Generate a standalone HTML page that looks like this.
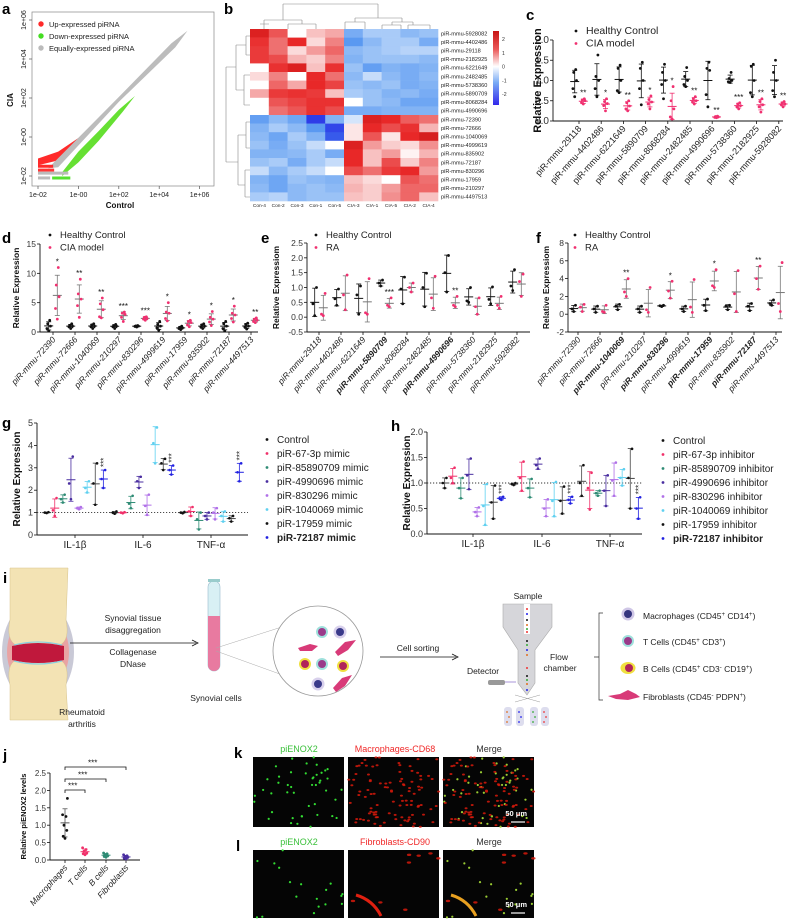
<!DOCTYPE html>
<html><head><meta charset="utf-8">
<style>
html,body{margin:0;padding:0;background:#fff;}
svg{display:block;font-family:"Liberation Sans",Arial,sans-serif;}
</style></head>
<body>
<svg id="fig" width="790" height="920" viewBox="0 0 790 920" xmlns="http://www.w3.org/2000/svg">
<rect x="0" y="0" width="790" height="920" fill="#fff"/>
<g id="static">
  <g font-weight="bold" font-size="15" fill="#000">
    <text x="2" y="14">a</text>
    <text x="224" y="14">b</text>
    <text x="526" y="20">c</text>
    <text x="2" y="243">d</text>
    <text x="261" y="243">e</text>
    <text x="536" y="243">f</text>
    <text x="2" y="428">g</text>
    <text x="391" y="431">h</text>
    <text x="3" y="583">i</text>
    <text x="3" y="760">j</text>
    <text x="234" y="758">k</text>
    <text x="236" y="851">l</text>
  </g>

  <g>
    <ellipse cx="38" cy="652" rx="36" ry="52" fill="#c9c9d6"/>
    <ellipse cx="38" cy="652" rx="31" ry="40" fill="#e9a3a3"/>
    <path d="M10,568 L68,568 L66,620 Q70,640 60,645 L16,645 Q6,640 10,620 Z" fill="#f3e3b4" stroke="#d8c48c" stroke-width="0.5"/>
    <path d="M16,660 L60,660 Q70,665 66,685 L68,720 L10,720 L10,685 Q6,665 16,660 Z" fill="#f3e3b4" stroke="#d8c48c" stroke-width="0.5"/>
    <path d="M12,646 Q38,640 64,646 L64,660 Q38,666 12,660 Z" fill="#c0183c"/>
    <path d="M14,645 Q38,639 62,645" stroke="#8ad0e0" stroke-width="1.2" fill="none"/>
    <path d="M14,661 Q38,667 62,661" stroke="#8ad0e0" stroke-width="1.2" fill="none"/>
  </g>
  <text x="82" y="715" font-size="8.5" text-anchor="middle" fill="#222">Rheumatoid</text>
  <text x="82" y="727" font-size="8.5" text-anchor="middle" fill="#222">arthritis</text>
  <line x1="70" y1="643" x2="196" y2="643" stroke="#111" stroke-width="0.8"/>
  <path d="M192,640 L198,643 L192,646" fill="none" stroke="#111" stroke-width="0.8"/>
  <g font-size="8.5" fill="#222" text-anchor="middle">
    <text x="133" y="621">Synovial tissue</text>
    <text x="133" y="633">disaggregation</text>
    <text x="133" y="655">Collagenase</text>
    <text x="133" y="667">DNase</text>
  </g>
  <g>
    <rect x="208" y="581" width="12" height="90" rx="6" fill="#d8f0f4" stroke="#9bc" stroke-width="0.6"/>
    <path d="M208,616 L220,616 L220,665 A6,6 0 0 1 208,665 Z" fill="#e87aa0"/>
    <rect x="208" y="579" width="12" height="3" fill="#9cc"/>
  </g>
  <text x="216" y="701" font-size="8.5" text-anchor="middle" fill="#222">Synovial cells</text>
  <line x1="216" y1="648" x2="313" y2="617" stroke="#aaa" stroke-width="0.5"/>
  <line x1="216" y1="651" x2="313" y2="686" stroke="#aaa" stroke-width="0.5"/>
  <g>
    <circle cx="318" cy="651" r="45" fill="#fff" stroke="#999" stroke-width="0.8"/>
    <circle cx="322" cy="632" r="6" fill="#9fe0dc"/><circle cx="322" cy="632" r="4" fill="#9a3a8a"/>
    <circle cx="340" cy="632" r="6.5" fill="#d8d0ec"/><circle cx="340" cy="632" r="4" fill="#3a3a8a"/>
    <circle cx="305" cy="664" r="6" fill="#f0e040"/><circle cx="305" cy="664" r="4" fill="#b0245a"/>
    <circle cx="322" cy="664" r="6" fill="#9fe0dc"/><circle cx="322" cy="664" r="4" fill="#9a3a8a"/>
    <circle cx="343" cy="666" r="6" fill="#f0e040"/><circle cx="343" cy="666" r="4" fill="#b0245a"/>
    <circle cx="318" cy="684" r="6.5" fill="#d8d0ec"/><circle cx="318" cy="684" r="4" fill="#3a3a8a"/>
    <path d="M298,648 L310,644 L318,646 L312,651 L300,651 Z" fill="#d83a78"/>
    <path d="M335,652 L345,642 L356,640 L348,650 L338,656 Z" fill="#d83a78"/>
    <path d="M333,688 L342,678 L352,675 L345,686 L336,692 Z" fill="#d83a78"/>
  </g>
  <line x1="380" y1="657" x2="456" y2="657" stroke="#111" stroke-width="0.8"/>
  <path d="M452,654 L458,657 L452,660" fill="none" stroke="#111" stroke-width="0.8"/>
  <text x="418" y="651" font-size="8.5" text-anchor="middle" fill="#222">Cell sorting</text>
  <g>
    <path d="M503,604 L552,604 L552,627 L535,650 L535,683 L527,695 L518,683 L518,650 L503,627 Z" fill="#d6d6da" stroke="#aaa" stroke-width="0.6"/>
    <rect x="524" y="604" width="6" height="30" fill="#fff"/>
    <g fill="#e33"><circle cx="527" cy="609" r="1"/><circle cx="527" cy="632" r="1"/><circle cx="527" cy="668" r="1"/></g>
    <g fill="#22e"><circle cx="527" cy="614" r="1"/><circle cx="527" cy="650" r="1"/><circle cx="527" cy="690" r="1"/></g>
    <g fill="#111"><circle cx="527" cy="620" r="1"/><circle cx="527" cy="641" r="1"/><circle cx="527" cy="676" r="1"/></g>
    <g fill="#e07020"><circle cx="527" cy="625" r="1"/><circle cx="527" cy="655" r="1"/><circle cx="527" cy="684" r="1"/></g>
    <g fill="#3a3"><circle cx="527" cy="629" r="1"/><circle cx="527" cy="645" r="1"/><circle cx="527" cy="680" r="1"/></g>
    <line x1="515" y1="702" x2="540" y2="695" stroke="#999" stroke-width="0.5"/>
    <line x1="515" y1="695" x2="540" y2="702" stroke="#999" stroke-width="0.5"/>
  </g>
  <text x="528" y="599" font-size="8.5" text-anchor="middle" fill="#222">Sample</text>
  <text x="483" y="674" font-size="8.5" text-anchor="middle" fill="#222">Detector</text>
  <rect x="488" y="680" width="17" height="5" rx="2" fill="#999"/>
  <line x1="505" y1="682" x2="516" y2="682" stroke="#7050c0" stroke-width="0.6"/>
  <text x="559" y="660" font-size="8.5" text-anchor="middle" fill="#222">Flow</text>
  <text x="560" y="671" font-size="8.5" text-anchor="middle" fill="#222">chamber</text>
  <g>
    <rect x="504" y="707" width="8" height="19" rx="3" fill="#dde"/>
    <rect x="516" y="707" width="8" height="19" rx="3" fill="#dde"/>
    <rect x="530" y="707" width="8" height="19" rx="3" fill="#dde"/>
    <rect x="541" y="707" width="8" height="19" rx="3" fill="#dde"/>
    <g fill="#e07020"><circle cx="507" cy="712" r="0.9"/><circle cx="509" cy="717" r="0.9"/><circle cx="507" cy="722" r="0.9"/></g>
    <g fill="#22e"><circle cx="519" cy="712" r="0.9"/><circle cx="521" cy="717" r="0.9"/><circle cx="519" cy="722" r="0.9"/></g>
    <g fill="#3a3"><circle cx="533" cy="712" r="0.9"/><circle cx="535" cy="717" r="0.9"/><circle cx="533" cy="722" r="0.9"/></g>
    <g fill="#e33"><circle cx="544" cy="712" r="0.9"/><circle cx="546" cy="717" r="0.9"/><circle cx="544" cy="722" r="0.9"/></g>
  </g>
  <path d="M603,613 L599,613 L599,700 L603,700 M599,657 L594,657" fill="none" stroke="#333" stroke-width="0.7"/>
  <g font-size="8.5" fill="#222">
    <circle cx="628" cy="614" r="6.5" fill="#cfc6e6"/><circle cx="628" cy="614" r="4" fill="#34347e"/>
    <text x="643" y="619">Macrophages (CD45<tspan font-size="6" dy="-3">+</tspan><tspan dy="3"> CD14</tspan><tspan font-size="6" dy="-3">+</tspan><tspan dy="3">)</tspan></text>
    <circle cx="628" cy="641" r="6" fill="#9fe0dc"/><circle cx="628" cy="641" r="4" fill="#9a3a8a"/>
    <text x="643" y="645">T Cells (CD45<tspan font-size="6" dy="-3">+</tspan><tspan dy="3"> CD3</tspan><tspan font-size="6" dy="-3">+</tspan><tspan dy="3">)</tspan></text>
    <ellipse cx="628" cy="668" rx="7.5" ry="6" fill="#f0e040"/><circle cx="629" cy="668" r="4" fill="#b0245a"/>
    <text x="643" y="672">B Cells (CD45<tspan font-size="6" dy="-3">+</tspan><tspan dy="3"> CD3</tspan><tspan font-size="6" dy="-3">-</tspan><tspan dy="3"> CD19</tspan><tspan font-size="6" dy="-3">+</tspan><tspan dy="3">)</tspan></text>
    <path d="M608,696 L620,694 L628,690 L636,694 L640,697 L628,700 L616,699 Z" fill="#d83a78"/>
    <text x="643" y="700">Fibroblasts (CD45<tspan font-size="6" dy="-3">-</tspan><tspan dy="3"> PDPN</tspan><tspan font-size="6" dy="-3">+</tspan><tspan dy="3">)</tspan></text>
  </g>

  <g font-size="9" text-anchor="middle">
    <text x="299" y="752" fill="#3ac03a">piENOX2</text>
    <text x="395" y="752" fill="#f02828">Macrophages-CD68</text>
    <text x="489" y="752" fill="#333">Merge</text>
    <text x="299" y="845" fill="#3ac03a">piENOX2</text>
    <text x="395" y="845" fill="#f02828">Fibroblasts-CD90</text>
    <text x="489" y="845" fill="#333">Merge</text>
  </g>
</g>
<g id="dyn"></g>
</svg>
<script>
// ===== chart data =====
const aTicks = ["1e-02","1e-00","1e+02","1e+04","1e+06"];
const aTickVals = [-2, 0, 2, 4, 6];
const aGrayBand = [[-1.3,-1.4],[2,2.05],[4.6,4.8],[5.4,5.45],[4.8,4.6],[2,1.8],[-1,-1.55],[-1.5,-1.6]];
const aRedBand = [[-2,-1.1],[-1,-0.75],[0,-0.05],[1.5,1.45],[2.5,2.5],[2,1.95],[0.5,0.35],[-1,-1.2],[-2,-1.45]];
const aGreenBand = [[-0.8,-1.8],[0,-0.75],[1,0.3],[2,1.4],[2.8,2.1],[2.2,1.3],[1,-0.2],[0,-1.3],[-0.8,-2.0]];
const aRows = [[-2,-1.25,-1.5,"#ff2a2a"],[-2,-1.2,-1.7,"#f33"],[-2,-0.5,-1.85,"#bbb"],[-1.3,-0.4,-2.1,"#55e030"],[-2,-1.4,-2.1,"#bbb"]];
const hmCols = ["Con-4","Con-2","Con-3","Con-1","Con-5","CIA-3","CIA-1","CIA-5","CIA-2","CIA-4"];
const hmRows = ["piR-mmu-5928082","piR-mmu-4402486","piR-mmu-29118","piR-mmu-2182925","piR-mmu-6221649","piR-mmu-2482485","piR-mmu-5738360","piR-mmu-5890709","piR-mmu-8068284","piR-mmu-4990696","piR-mmu-72390","piR-mmu-72666","piR-mmu-1040069","piR-mmu-4999619","piR-mmu-835902","piR-mmu-72187","piR-mmu-830296","piR-mmu-17959","piR-mmu-210297","piR-mmu-4497513"];
const hmVals = [
[2.2,1.5,0,0.5,0.7,-1,-0.6,-0.6,-0.8,-0.7],
[1.9,1.2,2,0.3,1,-1.3,-0.8,-0.6,-0.6,-1],
[1.8,1.2,0.3,0.8,1.3,-0.8,-0.7,-0.6,-0.5,-0.5],
[1.8,1.6,0.6,0.4,1,-0.9,-0.7,-0.7,-0.7,-0.8],
[0,1.9,2.2,0.5,1.9,-0.7,-1.2,-0.9,-1,-0.9],
[0.3,1,0,2,1.2,-0.8,-0.4,-0.8,-1,-0.8],
[0,1.3,0.7,2,1.7,-0.7,-0.8,-0.7,-1,-0.9],
[0.7,1.8,1.9,1.8,0.5,-0.6,-0.7,-0.9,-0.8,-1],
[0,1.5,1.7,1.9,1.9,0,-0.7,-0.8,-1.1,-1.1],
[0,1.2,1.5,1.9,1.6,-1,-1,-0.9,-0.9,-0.9],
[-1.2,-0.8,-1.1,-2.3,-0.9,-0.3,2.2,2,1.4,1.2],
[-0.9,-0.6,-0.8,-1.3,-2.2,0.2,2,1.6,1.9,0.6],
[-0.8,-1.1,-0.6,-0.9,-2,0.2,1.5,0.2,2,2.3],
[-0.7,-1,-0.7,-0.4,0,2.2,0.8,0.4,0.3,0.9],
[-0.9,-0.9,-0.8,-0.6,-1,2,0.5,0.8,0.1,0.6],
[-0.7,-0.6,-1,-0.6,-0.4,2,0.5,1.6,0.4,1],
[-0.4,-0.8,-0.6,-0.4,0,1.6,1.2,1.8,2,0.8],
[-0.9,-1.1,-0.7,-0.8,-0.9,0.5,0.3,0,1.5,1.2],
[-0.8,-1.1,-0.8,-0.7,-0.8,0.6,0.4,0.8,1.3,1.3],
[-0.6,-0.5,-0.8,-0.7,-0.7,0.5,0.4,0.9,1.3,0.5]];
const hmScaleTicks = [2,1,0,-1,-2];
const cCats = ["piR-mmu-29118","piR-mmu-4402486","piR-mmu-6221649","piR-mmu-5890709","piR-mmu-8068284","piR-mmu-2482485","piR-mmu-4990696","piR-mmu-5738360","piR-mmu-2182925","piR-mmu-5928082"];
const cHC = [[0.6,0.8,1.0,1.2,1.27],[0.6,0.8,1.0,1.1,1.63],[0.7,0.75,1.0,1.3,1.38],[0.4,0.8,1.0,1.3,1.45],[0.55,0.9,1.0,1.2,1.4],[0.85,0.9,1.0,1.1,1.32],[0.35,0.65,1.25,1.3,1.45],[0.95,0.97,1.0,1.05,1.2],[0.6,0.7,1.0,1.35,1.4],[0.6,0.75,1.0,1.2,1.5]];
const cCIA = [[0.42,0.45,0.5,0.52,0.55],[0.25,0.38,0.43,0.48,0.55],[0.25,0.3,0.37,0.45,0.5],[0.3,0.42,0.47,0.53,0.62],[0.05,0.1,0.3,0.5,0.85],[0.42,0.47,0.5,0.55,0.6],[0.08,0.09,0.1,0.11,0.12],[0.3,0.35,0.38,0.42,0.45],[0.22,0.35,0.4,0.48,0.55],[0.35,0.4,0.42,0.45,0.48]];
const cStars = ["**","*","**","*","*","**","**","***","**","**"];
const cTicks = [0,0.5,1,1.5,2];
const dCats = ["piR-mmu-72390","piR-mmu-72666","piR-mmu-1040069","piR-mmu-210297","piR-mmu-830296","piR-mmu-4999619","piR-mmu-17959","piR-mmu-835902","piR-mmu-72187","piR-mmu-4497513"];
const dHC = [[0.2,0.6,1,1.4,2],[0.6,0.9,1,1.1,1.4],[0.6,0.9,1,1.2,1.4],[0.6,0.9,1,1.1,1.3],[0.85,0.95,1,1.05,1.1],[0.3,0.7,1,1.3,1.8],[0.4,0.6,0.7,0.8,1.0],[0.6,0.8,1,1.2,1.4],[0.2,0.6,1,1.4,1.8],[0.5,0.8,1,1.3,1.5]];
const dCIA = [[2.2,4,6,8,11],[2.5,4.5,5.6,6.5,9],[2.4,2.6,3.8,4.8,5.8],[1.8,2.5,3.0,3.2,3.4],[2.0,2.2,2.3,2.5,2.6],[1.9,2.3,3.2,3.4,5.0],[0.9,1.2,1.6,1.8,2.0],[1.1,1.7,2.2,2.5,3.5],[1.7,2.3,2.9,3.2,4.4],[1.6,1.8,2.0,2.2,2.4]];
const dStars = ["*","**","**","***","***","*","*","*","*","**"];
const dTicks = [0,5,10,15];
const eCats = ["piR-mmu-29118","piR-mmu-4402486","piR-mmu-6221649","piR-mmu-5890709","piR-mmu-8068284","piR-mmu-2482485","piR-mmu-4990696","piR-mmu-5738360","piR-mmu-2182925","piR-mmu-5928082"];
const eBold = [3,6];
const eHC = [[0.05,0.45,1.0],[0.4,0.62,0.95],[0.1,0.75,1.05],[1.05,1.15,1.25],[0.45,0.95,1.35],[0.35,1.0,1.48],[0.85,1.5,2.08],[0.5,0.55,1.0],[0.45,0.6,1.02],[0.9,1.05,1.6]];
const eRA = [[0.05,0.1,0.8],[0.25,0.75,1.42],[0.1,0.15,1.3],[0.35,0.4,0.65],[0.85,1.0,1.15],[0.3,0.65,1.38],[0.35,0.4,0.7],[0.1,0.35,0.65],[0.3,0.4,0.7],[0.7,1.2,1.45]];
const eStars = ["","","","***","","","**","","",""];
const eTicks = [-0.5,0,0.5,1,1.5,2,2.5];
const fCats = ["piR-mmu-72390","piR-mmu-72666","piR-mmu-1040069","piR-mmu-210297","piR-mmu-830296","piR-mmu-4999619","piR-mmu-17959","piR-mmu-835902","piR-mmu-72187","piR-mmu-4497513"];
const fBold = [2,4,6,8];
const fHC = [[0.3,0.6,1.0],[0.2,0.6,0.9],[0.5,0.9,1.1],[0.2,0.6,0.9],[0.85,0.95,1.0],[0.3,0.6,0.9],[0.4,1.0,1.7],[0.5,0.9,1.0],[0.4,0.9,1.2],[1.0,1.2,1.6]];
const fRA = [[0.3,0.8,1.1],[0.2,0.3,1.0],[2.0,2.5,4.0],[0.2,0.5,3.0],[1.8,2.6,3.7],[0.2,0.8,3.9],[3.0,3.2,5.0],[0.3,2.3,4.9],[2.8,4.0,5.4],[0.3,1.2,5.8]];
const fStars = ["","","**","","*","","*","","**",""];
const fTicks = [-2,0,2,4,6,8];
const gGroups = ["IL-1β","IL-6","TNF-α"];
const gSeries = ["Control","piR-67-3p mimic","piR-85890709 mimic","piR-4990696 mimic","piR-830296 mimic","piR-1040069 mimic","piR-17959 mimic","piR-72187 mimic"];
const gPts = [
[[0.98,1.0,1.02],[0.95,1.0,1.05],[0.97,1.0,1.03]],
[[0.85,1.1,1.65],[0.97,1.0,1.02],[0.85,1.05,1.25]],
[[1.45,1.6,1.8],[1.2,1.4,1.75],[0.25,0.7,1.0]],
[[1.6,2.3,3.5],[2.1,2.4,2.6],[0.7,0.85,1.0]],
[[1.15,1.2,1.25],[0.9,1.3,1.8],[0.7,1.0,1.2]],
[[1.9,2.1,2.4],[3.2,4.1,4.8],[0.6,0.85,1.05]],
[[1.35,2.3,3.2],[2.9,3.2,3.4],[0.6,0.75,0.85]],
[[2.1,2.5,2.9],[2.7,2.9,3.1],[2.4,2.8,3.2]]];
const gTicks = [0,1,2,3,4,5];
const hSeries = ["Control","piR-67-3p inhibitor","piR-85890709 inhibitor","piR-4990696 inhibitor","piR-830296 inhibitor","piR-1040069 inhibitor","piR-17959 inhibitor","piR-72187 inhibitor"];
const hPts = [
[[0.9,1.0,1.1],[0.96,0.98,1.0],[0.75,1.0,1.35]],
[[1.0,1.1,1.3],[0.85,1.1,1.42],[0.48,0.9,1.2]],
[[0.7,0.9,1.1],[0.72,0.9,1.08],[0.75,0.8,0.85]],
[[0.88,1.15,1.48],[1.28,1.35,1.48],[0.55,0.85,1.15]],
[[0.35,0.43,0.52],[0.35,0.5,0.68],[0.75,1.05,1.4]],
[[0.18,0.55,0.98],[0.35,0.65,1.02],[0.95,1.1,1.27]],
[[0.3,0.62,0.95],[0.4,0.65,0.93],[0.5,1.1,1.67]],
[[0.67,0.7,0.73],[0.6,0.67,0.73],[0.3,0.5,0.72]]];
const hTicks = [0,0.5,1,1.5,2];
const jCats = ["Macrophages","T cells","B cells","Fibroblasts"];
const jPts = [[0.62,0.68,0.85,1.0,1.25,1.3,1.77],[0.15,0.18,0.2,0.25,0.3,0.35],[0.08,0.1,0.12,0.15,0.18,0.2],[0.03,0.05,0.08,0.1,0.12,0.15]];
const jTicks = [0,0.5,1,1.5,2,2.5];

// ===== rendering =====
const NS = "http://www.w3.org/2000/svg";
const root = document.getElementById("dyn");
function mk(tag, attrs, parent){
  const e = document.createElementNS(NS, tag);
  for (const k in attrs) e.setAttribute(k, attrs[k]);
  (parent||root).appendChild(e);
  return e;
}
function txt(x,y,s,attrs,parent){
  const t = mk("text", Object.assign({x:x,y:y,"font-size":8,fill:"#222"},attrs||{}), parent);
  t.textContent = s; return t;
}
const mean = a => a.reduce((s,v)=>s+v,0)/a.length;
const sdev = a => { const m=mean(a); return Math.sqrt(a.reduce((s,v)=>s+(v-m)*(v-m),0)/Math.max(1,a.length-1)); };
const JIT = [0,-1.8,1.8,-1,1,-2.4,2.4];
function fmt(v,dec){ return v.toFixed(dec); }

function axes(p, ticks, dec, title, titleX, fs){
  const g = mk("g",{});
  
  
  const y = v => p.yb - (v-p.vmin)/(p.vmax-p.vmin)*(p.yb-p.yt);
  mk("line",{x1:p.x0,y1:p.yt,x2:p.x0,y2:p.yb,stroke:"#111","stroke-width":0.9},g);
  mk("line",{x1:p.x0,y1:p.yb,x2:p.xe,y2:p.yb,stroke:"#111","stroke-width":0.9},g);
  ticks.forEach(v=>{
    mk("line",{x1:p.x0-3,y1:y(v),x2:p.x0,y2:y(v),stroke:"#111","stroke-width":0.8},g);
    const t = txt(p.x0-4,y(v)+3,fmt(v,dec),{"text-anchor":"end","font-size":p.tkfs||fs||8.5,fill:"#333"},g);
    
    
  });
  const cy=(p.yt+p.yb)/2;
  const tt = txt(titleX,cy,title,{"text-anchor":"middle","font-size":p.tfs||9.5,"font-weight":"bold",fill:"#111",transform:`rotate(-90 ${titleX} ${cy})`},g);
  
  
  return y;
}
function group(y, cx, pts, color, bar, name, r){
  const g = mk("g",{});
  
  
  const m = mean(pts), s = sdev(pts);
  mk("line",{x1:cx,y1:y(m-s),x2:cx,y2:y(m+s),stroke:bar,"stroke-width":0.8},g);
  mk("line",{x1:cx-2.5,y1:y(m-s),x2:cx+2.5,y2:y(m-s),stroke:bar,"stroke-width":0.8},g);
  mk("line",{x1:cx-2.5,y1:y(m+s),x2:cx+2.5,y2:y(m+s),stroke:bar,"stroke-width":0.8},g);
  mk("line",{x1:cx-4.5,y1:y(m),x2:cx+4.5,y2:y(m),stroke:bar,"stroke-width":1},g);
  pts.forEach((v,i)=>{
    const c = mk("circle",{cx:cx+JIT[i%JIT.length],cy:y(v),r:r||1.4,fill:color},g);
    
    
  });
  return y(Math.max(m+s, Math.max(...pts)));
}
function legend2(x,y0,labels,colors,fs){
  labels.forEach((l,i)=>{
    const c = mk("circle",{cx:x,cy:y0+i*12.5-3,r:1.4,fill:colors[i]});
    
    
    const t = txt(x+10,y0+i*12.5,l,{"font-size":fs||9.5,fill:"#222"});
    
    
  });
}
function xLabels(p, cats, xs, italic, bold){
  cats.forEach((c,i)=>{
    mk("line",{x1:xs[i],y1:p.yb,x2:xs[i],y2:p.yb+3,stroke:"#111","stroke-width":0.8});
    const x=xs[i]+3, yy=p.yb+8;
    const t = txt(x,yy,c,{"text-anchor":"end","font-size":p.xfs||8.5,fill:"#222","font-style":italic?"italic":"normal","font-weight":(bold&&bold.includes(i))?"bold":"normal",transform:`rotate(-48 ${x} ${yy})`});
    
    
  });
}
function pairPanel(p, cats, A, B, stars, ticks, dec, title, titleX, italic, bold, bcol, legendLabels, lx){
  const y = axes(p, ticks, dec, title, titleX);
  const xs = cats.map((c,i)=>p.c0+i*p.step);
  xLabels(p,cats,xs,italic,bold);
  cats.forEach((c,i)=>{
    group(y, xs[i]-4.3, A[i], "#111", "#111", p.name+'-control-'+i);
    const top = group(y, xs[i]+4.3, B[i], "#f03070", bcol, p.name+'-case-'+i);
    if (stars[i]){
      const t = txt(xs[i]+4.3, top-3, stars[i], {"text-anchor":"middle","font-size":8,fill:"#111"});
      
      
    }
  });
  legend2(lx, p.lyy, legendLabels, ["#111","#f03070"], p.lfs);
}

// ---- panel a ----
(function(){
  const X = v => 38 + (v+2)*20.2, Y = v => 176 - (v+2)*19.5;
  const g = mk("g",{});
  
  
  mk("rect",{x:32,y:12,width:182,height:174,fill:"none",stroke:"#888","stroke-width":0.7},g);
  const poly = (pts,col,name) => { const pg = mk("polygon",{points:pts.map(p=>X(p[0])+","+Y(p[1])).join(" "),fill:col},g);
    
     };
  poly(aRedBand,"#ff2a2a","up-expressed-cloud");
  poly(aGreenBand,"#66e033","down-expressed-cloud");
  poly(aGrayBand,"#bcbcbc","equally-expressed-cloud");
  aRows.forEach(r=>{ const l = mk("line",{x1:X(r[0]),y1:Y(r[2]),x2:X(r[1]),y2:Y(r[2]),stroke:r[3],"stroke-width":3},g);
    
     });
  aTickVals.forEach((v,i)=>{
    mk("line",{x1:X(v),y1:186,x2:X(v),y2:189,stroke:"#555","stroke-width":0.7},g);
    const t = txt(X(v),197,aTicks[i],{"text-anchor":"middle","font-size":7,fill:"#222"},g);
    
    
    mk("line",{x1:29,y1:Y(v),x2:32,y2:Y(v),stroke:"#555","stroke-width":0.7},g);
    const t2 = txt(26,Y(v),aTicks[i],{"text-anchor":"middle","font-size":7,fill:"#222",transform:`rotate(-90 26 ${Y(v)})`},g);
    
    
  });
  const xt = txt(120,208,"Control",{"text-anchor":"middle","font-size":8,"font-weight":"bold",fill:"#111"},g);
  
  
  const yt = txt(13,100,"CIA",{"text-anchor":"middle","font-size":8,"font-weight":"bold",fill:"#111",transform:"rotate(-90 13 100)"},g);
  
  
  const labs=["Up-expressed piRNA","Down-expressed piRNA","Equally-expressed piRNA"], cols=["#ff2a2a","#44dd22","#bbb"];
  labs.forEach((l,i)=>{ const c = mk("circle",{cx:41,cy:24+i*12,r:2.7,fill:cols[i]},g);
    
    
    const t = txt(49,27+i*12,l,{"font-size":7.5,fill:"#222"},g);
    
     });
})();

// ---- panel b heatmap ----
(function(){
  const x0=250, y0=29, cw=18.8, rh=8.6;
  const stops=[[-2.5,[40,40,230]],[-1.5,[70,140,240]],[-0.8,[140,185,245]],[0,[255,255,255]],[1,[240,130,130]],[2,[232,40,40]],[2.6,[195,20,20]]];
  const col=v=>{ v=Math.max(-2.5,Math.min(2.6,v)); for(let i=0;i<stops.length-1;i++){ const a=stops[i],b=stops[i+1]; if(v<=b[0]){ const t=(v-a[0])/(b[0]-a[0]); return "rgb("+a[1].map((c,j)=>Math.round(c+(b[1][j]-c)*t)).join(",")+")"; } } return "rgb(195,20,20)"; };
  const g = mk("g",{});
  
  
  hmVals.forEach((row,r)=>row.forEach((v,c)=>{
    const cell = mk("rect",{x:x0+c*cw,y:y0+r*rh,width:cw+0.3,height:rh+0.3,fill:col(v)},g);
    
    
  }));
  hmRows.forEach((n,r)=>{ const t = txt(x0+10*cw+3,y0+r*rh+6.3,n,{"font-size":5.6,fill:"#222"},g);
    
     });
  hmCols.forEach((n,c)=>{ const t = txt(x0+c*cw+cw/2,y0+20*rh+6,n,{"font-size":4.8,"text-anchor":"middle",fill:"#222"},g);
    
     });
  const d = "M283,4 L378,4 M283,4 L283,20 M378,4 L378,18 M264,20 L302,20 M264,20 L264,29 M302,20 L302,24 M288,24 L316,24 M288,24 L288,29 M316,24 L316,29 M260,24 L269,24 M355,18 L402,18 M355,18 L355,22 M402,18 L402,22 M345,22 L365,22 M345,22 L345,29 M365,22 L365,29 M392,22 L413,22 M392,22 L392,25 M413,22 L413,25 M382,25 L401,25 M382,25 L382,29 M401,25 L401,29 M408,25 L430,25 M408,25 L408,29 M430,25 L430,29";
  const dp = mk("path",{d:d,stroke:"#888","stroke-width":0.6,fill:"none"},g);
  
  
  const d2 = "M226,67 L226,162 M226,67 L236,67 M226,162 L238,162 M236,45 L236,90 M236,45 L246,45 M236,90 L244,90 M246,36 L246,55 M246,36 L250,36 M246,55 L250,55 M244,75 L244,105 M244,75 L250,75 M244,105 L250,105 M238,135 L238,185 M238,135 L246,135 M238,185 L245,185 M246,122 L246,148 M246,122 L250,122 M246,148 L250,148 M245,170 L245,197 M245,170 L250,170 M245,197 L250,197";
  const dp2 = mk("path",{d:d2,stroke:"#888","stroke-width":0.6,fill:"none"},g);
  
  
  const defs = mk("defs",{},g);
  const lg = mk("linearGradient",{id:"cb",x1:0,y1:0,x2:0,y2:1},defs);
  [[0,"rgb(200,20,20)"],[0.25,"rgb(235,90,90)"],[0.48,"#fff"],[0.7,"rgb(120,170,245)"],[1,"rgb(50,40,235)"]].forEach(s=>mk("stop",{offset:s[0],"stop-color":s[1]},lg));
  const cb = mk("rect",{x:493,y:31,width:6,height:74,fill:"url(#cb)"},g);
  
  
  hmScaleTicks.forEach((v,i)=>{ const t = txt(502,41+i*13.8,String(v),{"font-size":5.2,fill:"#333"},g);
    
     });
})();

// ---- panels c, d, e, f ----
pairPanel({name:"c",x0:553,yt:40,yb:121,xe:783,vmin:0,vmax:2,c0:579,step:22.2,lyy:34,tfs:11,tkfs:10,lfs:10.5,xfs:9},cCats,cHC,cCIA,cStars,cTicks,1,"Relative Expression",541,false,null,"#f03070",["Healthy Control","CIA model"],576);
pairPanel({name:"d",x0:40,yt:244,yb:332,xe:258,vmin:0,vmax:15,c0:53,step:22,lyy:238,tfs:8.5},dCats,dHC,dCIA,dStars,dTicks,0,"Relative Expression",19,true,null,"#777",["Healthy Control","CIA model"],50);
pairPanel({name:"e",x0:307,yt:243,yb:332,xe:530,vmin:-0.5,vmax:2.5,c0:319,step:22,lyy:238,tfs:8.5},eCats,eHC,eRA,eStars,eTicks,1,"Relative Expressiom",279,true,eBold,"#777",["Healthy Control","RA"],316);
pairPanel({name:"f",x0:568,yt:243,yb:332,xe:782,vmin:-2,vmax:8,c0:578,step:22,lyy:238,tfs:8.5},fCats,fHC,fRA,fStars,fTicks,0,"Relative Expressiom",549,true,fBold,"#777",["Healthy Control","RA"],575);

// ---- panels g, h ----
const seriesCols = ["#111","#f0306a","#2e8b74","#4a2ea0","#b070e8","#5fd0f0","#111","#2020e0"];
function multiPanel(p, groups, series, pts, ticks, dec, gcx){
  const y = axes(p, ticks, dec, "Relative Expression", p.tx, 9);
  const dl = mk("line",{x1:p.x0,y1:y(1),x2:p.xe,y2:y(1),stroke:"#333","stroke-width":0.9,"stroke-dasharray":"1.2,1.8"});
  
  
  groups.forEach((gname,gi)=>{
    mk("line",{x1:gcx[gi],y1:p.yb,x2:gcx[gi],y2:p.yb+3,stroke:"#111","stroke-width":0.8});
    const t = txt(gcx[gi],p.yb+13,gname,{"text-anchor":"middle","font-size":10,fill:"#222"});
    
    
    series.forEach((s,si)=>{
      const cx = gcx[gi]+(si-3.5)*8.1;
      const top = group(y, cx, pts[si][gi], seriesCols[si], seriesCols[si]==="#111"?"#444":seriesCols[si], p.name+'-'+s.replace(/ /g,'-')+'-'+gi, 1.3);
      if (si===7 && p.starGroups.includes(gi)){
        const st = txt(cx+3, top-3, "***", {"font-size":8,fill:"#222",transform:`rotate(-90 ${cx+3} ${top-3})`});
        
        
      }
    });
  });
  series.forEach((s,si)=>{
    const c = mk("circle",{cx:p.lx,cy:p.ly+si*14-3.5,r:1.4,fill:seriesCols[si]});
    
    
    const t = txt(p.lx+10,p.ly+si*14,s,{"font-size":10,fill:"#222","font-weight":si===7?"bold":"normal"});
    
    
  });
}
multiPanel({name:"g",x0:37,yt:423,yb:535,xe:248,vmin:0,vmax:5,tx:20,lx:267,ly:443,tfs:10,starGroups:[0,1,2]},gGroups,gSeries,gPts,gTicks,0,[75,143,211]);
multiPanel({name:"h",x0:427,yt:432,yb:534,xe:642,vmin:0,vmax:2,tx:410,lx:663,ly:444,tfs:10,starGroups:[0,1,2]},gGroups,hSeries,hPts,hTicks,1,[473,542,610]);

// ---- panel j ----
(function(){
  const p={name:"j",x0:50,yt:773,yb:860,xe:140,vmin:0,vmax:2.5,tfs:7.5};
  const y = axes(p, jTicks, 1, "Relative piENOX2 levels", 26, 8);
  const xs=[65,85,106,126], cols=["#111","#f0306a","#2e8b74","#4a2ea0"];
  xLabels(p,jCats,xs,true,null);
  jCats.forEach((c,i)=>group(y,xs[i],jPts[i],cols[i],i===0?"#555":cols[i],'j-'+c.replace(/ /g,'-'),1.4));
  [[85,790],[106,779],[126,767]].forEach((b,i)=>{
    const br = mk("path",{d:`M65,${b[1]+3} L65,${b[1]} L${b[0]},${b[1]} L${b[0]},${b[1]+3}`,fill:"none",stroke:"#111","stroke-width":0.8});
    
    
    const t = txt(68+ (i===2?20:(i===1?10:0)),b[1]-1.5,"***",{"font-size":8,fill:"#111"});
    
    
  });
})();

// ---- panels k, l (microscopy images, decorative) ----
(function(){
  let seed = 12345;
  const rnd = () => { seed = (seed*1103515245+12345) & 0x7fffffff; return seed/0x7fffffff; };
  const xsI=[253,348,443], W=91;
  [[757,70,"k"],[850,68,"l"]].forEach(([y0,H,tag])=>{
    const green=[], red=[];
    const ng = tag==="k"?45:18, nr = tag==="k"?100:8;
    for(let i=0;i<ng;i++) green.push([rnd()*W, rnd()*H]);
    for(let i=0;i<nr;i++) red.push([rnd()*W, tag==="k"? rnd()*H : (rnd()<0.6? 3+rnd()*12 : 40+rnd()*25)]);
    xsI.forEach((x,k)=>{
      const g = mk("g",{});
      
      
      mk("rect",{x:x,y:y0,width:W,height:H,fill:"#050505"},g);
      if(k!==1) green.forEach(p=>mk("circle",{cx:x+p[0],cy:y0+p[1],r:1.1,fill:k===2?"#9c3":"#3d3"},g));
      if(k!==0) red.forEach(p=>mk("ellipse",{cx:x+p[0],cy:y0+p[1],rx:tag==="k"?1.5:2.2,ry:tag==="k"?1:1.2,fill:"#d81a0c",opacity:0.85},g));
      if(tag==="l" && k!==0) mk("path",{d:`M${x+8},${y0+45} Q${x+25},${y0+50} ${x+33},${y0+66}`,stroke:k===2?"#e8a020":"#e02010","stroke-width":3,fill:"none"},g);
      if(k===2){ const t = txt(x+W-7,y0+H-11,"50 μm",{"font-size":7.5,"font-weight":"bold",fill:"#fff","text-anchor":"end"},g);
        
        
        mk("line",{x1:x+W-23,y1:y0+H-5,x2:x+W-9,y2:y0+H-5,stroke:"#fff","stroke-width":1.2},g); }
    });
  });
})();
</script>
</body></html>
